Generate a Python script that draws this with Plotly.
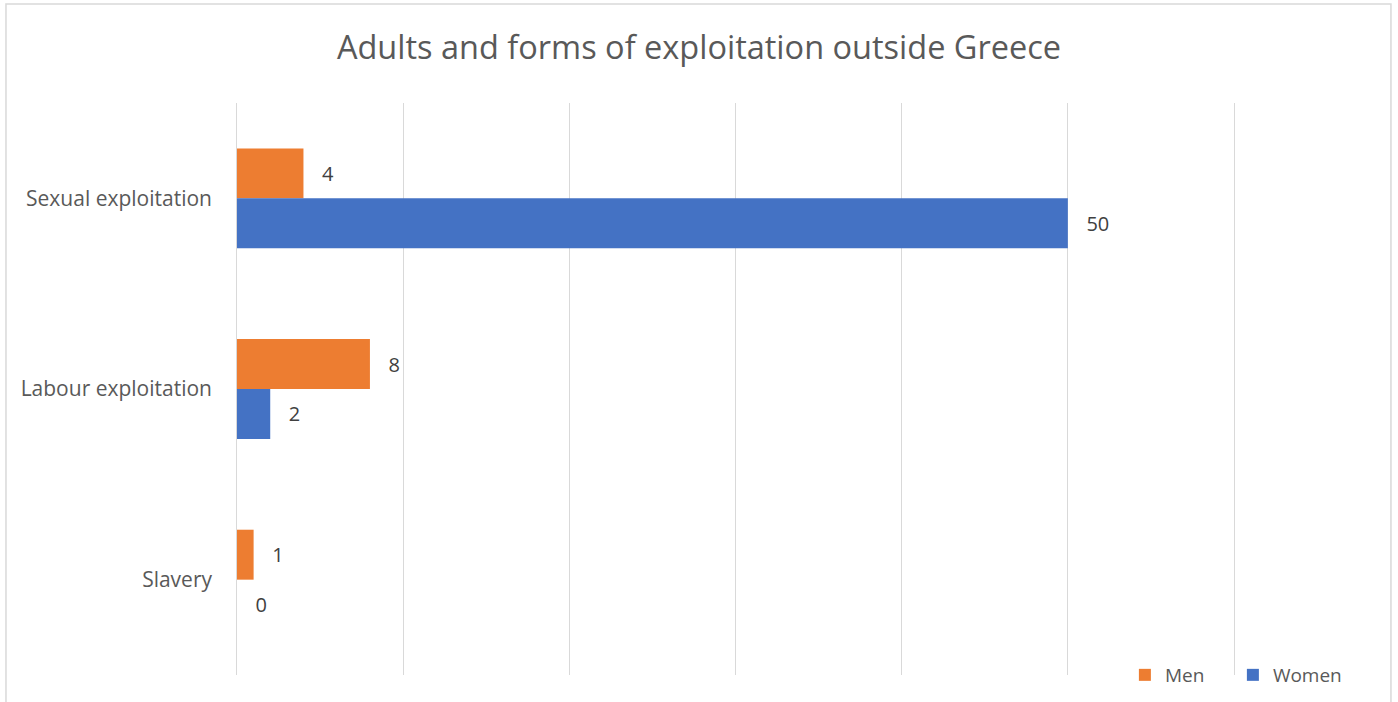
import plotly.graph_objects as go

# categories, top to bottom
forms = ["Sexual exploitation", "Labour exploitation", "Slavery"]
men = [4, 8, 1]
women = [50, 2, 0]

font_family = "Open Sans, sans-serif"
grey_text = "#595959"

fig = go.Figure()

fig.add_trace(go.Bar(
    y=forms, x=men, name="Men", orientation="h",
    marker=dict(color="#ED7D31", line=dict(width=0)),
    texttemplate="   %{x}", textposition="outside",
    textfont=dict(size=20, color="#404040", family=font_family),
    cliponaxis=False,
))
fig.add_trace(go.Bar(
    y=forms, x=women, name="Women", orientation="h",
    marker=dict(color="#4472C4", line=dict(width=0)),
    texttemplate="   %{x}", textposition="outside",
    textfont=dict(size=20, color="#404040", family=font_family),
    cliponaxis=False,
))

fig.update_layout(
    width=1398, height=702,
    paper_bgcolor="white", plot_bgcolor="white",
    margin=dict(l=235, r=162, t=103, b=27, autoexpand=False),
    barmode="group", bargap=0.476, bargroupgap=0,
    font=dict(family=font_family, color=grey_text),
    title=dict(
        text="Adults and forms of exploitation outside Greece",
        x=0.5, xref="container", y=1 - 48 / 702, yref="container",
        xanchor="center", yanchor="middle",
        font=dict(size=32.5, color=grey_text, family=font_family),
    ),
    showlegend=True,
    legend=dict(
        orientation="h", x=0.889, xanchor="left",
        y=1 - 675 / 702, yref="container", yanchor="middle",
        font=dict(size=19, color=grey_text, family=font_family),
        bgcolor="rgba(0,0,0,0)", entrywidth=63, entrywidthmode="pixels",
    ),
    xaxis=dict(
        # small padding so the 0 and 60 gridlines are not clipped at the edges
        range=[-0.12, 60.12], tick0=0, dtick=10, showgrid=True,
        gridcolor="#D9D9D9", gridwidth=1,
        showticklabels=False, zeroline=False, showline=False, ticks="",
        fixedrange=True,
    ),
    yaxis=dict(
        autorange="reversed", showgrid=False, zeroline=False, showline=False,
        ticks="", ticklabelstandoff=22,
        tickfont=dict(size=21, color=grey_text, family=font_family),
    ),
    shapes=[dict(
        type="rect", xref="paper", yref="paper",
        x0=-0.2288, x1=1.1548, y0=-0.08, y1=1.1731,
        line=dict(color="#D9D9D9", width=1.5), fillcolor="rgba(0,0,0,0)",
        layer="below",
    )],
)

# drop the page's default body margin so the figure sits at the window origin
fig.write_html("out.html", config={"displayModeBar": False},
               post_script="document.body.style.margin='0px';")
